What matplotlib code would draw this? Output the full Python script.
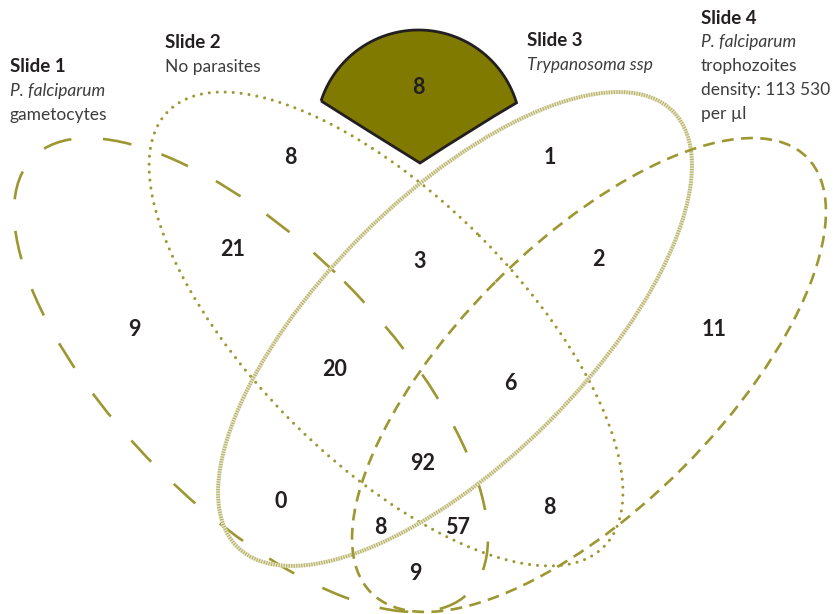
import numpy as np
import matplotlib.pyplot as plt
from matplotlib.patches import Ellipse, PathPatch
from matplotlib.path import Path

plt.rcParams['font.family'] = ['Lato', 'DejaVu Sans']

# region counts of the 4-set diagram
counts = [9, 8, 1, 11, 21, 3, 2, 20, 6, 92, 0, 8, 8, 57, 9]
outside_count = 8

titles = ["Slide 1", "Slide 2", "Slide 3", "Slide 4"]
subtitles = [
    [("P. falciparum", "italic"), ("gametocytes", "normal")],
    [("No parasites", "normal")],
    [("Trypanosoma ssp", "italic")],
    [("P. falciparum", "italic"), ("trophozoites", "normal"),
     ("density: 113 530", "normal"), ("per µl", "normal")],
]

# layout (pixel coordinates, y down)
count_xy = [(134, 330), (290, 158), (550, 158), (714, 330), (233, 249),
            (420, 262), (598, 259), (335, 370), (510, 383), (423, 463),
            (281, 501), (549, 508), (380, 527), (458, 527), (415, 574)]
title_xy = [(10, 67), (165, 43), (527, 41), (701, 18)]
centers = [(251, 375), (386, 329), (455, 329), (589, 375)]
angles = [45, 45, -45, -45]

olive = '#9d9732'
dark = '#231f20'

fig = plt.figure(figsize=(8.39, 6.14), dpi=100)
ax = fig.add_axes([0, 0, 1, 1])
ax.set_xlim(0, 839)
ax.set_ylim(614, 0)
ax.axis('off')

W, H = 616, 264

# slide 1: long dashes
ax.add_patch(Ellipse(centers[0], W, H, angle=angles[0], fill=False,
                     ec=olive, lw=1.9, ls=(0, (11, 12))))
# slide 2: dots
ax.add_patch(Ellipse(centers[1], W, H, angle=angles[1], fill=False,
                     ec=olive, lw=2.2, ls=(0, (0.01, 2.6)), capstyle='round'))
# slide 3: striped rope line
ax.add_patch(Ellipse(centers[2], W, H, angle=angles[2], fill=False,
                     ec='#e8e6cc', lw=2.8))
ax.add_patch(Ellipse(centers[2], W, H, angle=angles[2], fill=False,
                     ec='#b8b268', lw=2.8, ls=(0, (0.3, 0.35))))
# slide 4: short dashes
ax.add_patch(Ellipse(centers[3], W, H, angle=angles[3], fill=False,
                     ec=olive, lw=1.9, ls=(0, (4.5, 2.8))))

# filled fan shape at the top
cx, cy, r = 418.5, 132.4, 102.4
t = np.radians(np.linspace(-162.1, -16.8, 60))
arc = np.column_stack([cx + r * np.cos(t), cy + r * np.sin(t)])
verts = list(map(tuple, arc)) + [(473.5, 128), (420, 163), (363.5, 128), tuple(arc[0])]
codes = [Path.MOVETO] + [Path.LINETO] * (len(arc) - 1) + [Path.CURVE3] * 4
fan = PathPatch(Path(verts, codes), fc='#807a00', ec=dark, lw=2.0, zorder=3)
ax.add_patch(fan)
ax.text(418, 87, str(outside_count), ha='center', va='center', fontsize=15.5,
        fontweight='bold', color=dark, zorder=4)

for v, (x, y) in zip(counts, count_xy):
    ax.text(x, y, str(v), ha='center', va='center', fontsize=15.5,
            fontweight='bold', color=dark)

for title, subs, (x, y) in zip(titles, subtitles, title_xy):
    ax.text(x, y, title, ha='left', va='center', fontsize=13.5,
            fontweight='bold', color=dark)
    for i, (s, style) in enumerate(subs):
        ax.text(x, y + 24 * (i + 1), s, ha='left', va='center', fontsize=12.5,
                style=style, color='#3d3d3d')

fig.savefig('out.png', dpi=100)
